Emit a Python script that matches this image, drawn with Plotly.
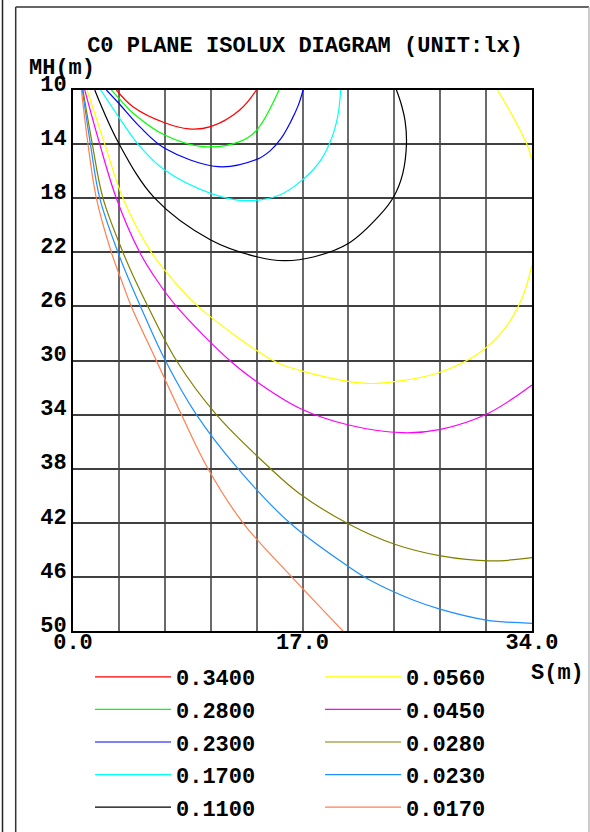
import plotly.graph_objects as go

# ---------------- data ----------------
levels = ["0.3400", "0.2800", "0.2300", "0.1700", "0.1100",
          "0.0560", "0.0450", "0.0280", "0.0230", "0.0170"]
colors = ["#ff0000", "#00ff00", "#0000ff", "#00ffff", "#000000",
          "#ffff00", "#ff00ff", "#808000", "#1e90ff", "#ff7f50"]

s_0340 = [3.21, 4.44, 6.79, 8.6, 10.2, 12.35, 13.59]
mh_0340 = [10, 11.23, 12.42, 12.88, 12.71, 11.48, 10]

s_0280 = [2.84, 3.39, 4.44, 6.79, 9.63, 12.35, 13.61, 15.26]
mh_0280 = [10, 10.6, 11.7, 13.33, 14.19, 13.82, 12.96, 10]

s_0230 = [2.47, 3.39, 4.94, 6.79, 10.74, 13.61, 14.6, 15.4, 16.15, 16.7, 17.04]
mh_0230 = [10, 10.98, 12.71, 14.31, 15.67, 15.13, 14.5, 13.6, 12.3, 11.1, 10]

s_0170 = [2.05, 3.39, 4.81, 6.79, 10.2, 12.72, 15.31, 16.99, 18.2, 19.01, 19.6, 19.83]
mh_0170 = [10, 12.0, 14.0, 15.92, 17.64, 18.18, 17.76, 16.65, 15.4, 13.94, 12.0, 10]

s_0110 = [1.61, 3.39, 6.05, 10.2, 13.61, 15.68, 17.8, 20.42, 22.72, 23.78, 24.42, 24.70, 24.6, 24.3, 23.96]
mh_0110 = [10, 13.94, 18.0, 21.09, 22.33, 22.62, 22.35, 21.33, 19.25, 17.85, 16.2, 14.0, 12.3, 11.0, 10]

s_0056 = [1.04, 2.35, 3.70, 5.80, 7.41, 9.26, 14.82, 16.79, 21.73, 24.70, 27.24, 30.0, 32.0, 33.3, 34.0,
          None, 31.44, 32.59, 33.59, 34.0]
mh_0056 = [10, 14, 18, 22, 24.05, 26, 30, 30.73, 31.69, 31.44, 30.85, 29.5, 27.6, 25.3, 22.94,
           None, 10, 11.97, 13.94, 15.18]

s_0045 = [0.87, 1.98, 3.21, 4.94, 6.2, 7.66, 11.61, 13.61, 16.79, 20.42, 24.44, 27.24, 30.62, 34.0]
mh_0045 = [10, 14, 18, 22, 24.05, 26, 30, 31.57, 33.53, 34.77, 35.34, 35.09, 33.98, 31.81]

s_0028 = [0.74, 1.43, 2.22, 3.70, 4.6, 5.55, 7.66, 10.62, 14.64, 16.79, 20.42, 23.83, 27.24, 30.87, 34.0]
mh_0028 = [10, 14, 18, 22, 24.05, 26, 30, 34, 38, 39.85, 42.09, 43.59, 44.45, 44.82, 44.58]

s_0023 = [0.69, 1.29, 1.98, 3.33, 4.15, 5.0, 6.84, 9.14, 12.22, 16.05, 20.42, 21.98, 25.19, 27.24, 30.62, 34.0]
mh_0023 = [10, 14, 18, 22, 24.05, 26, 30, 34, 38, 42, 45.25, 46.23, 47.71, 48.40, 49.19, 49.43]

s_0017 = [0.62, 1.11, 1.73, 2.84, 3.58, 4.32, 6.17, 8.03, 10.0, 12.59, 16.2, 20.0]
mh_0017 = [10, 14, 18, 22, 24.05, 26, 30, 34, 38, 42, 46, 50]

x_ticks = [0, 3.4, 6.8, 10.2, 13.6, 17.0, 20.4, 23.8, 27.2, 30.6, 34.0]
x_ticktext = ["0.0", "", "", "", "", "17.0", "", "", "", "", "34.0"]
y_ticks = [10, 14, 18, 22, 26, 30, 34, 38, 42, 46, 50]
y_ticktext = ["10", "14", "18", "22", "26", "30", "34", "38", "42", "46", "50"]

series_s = [s_0340, s_0280, s_0230, s_0170, s_0110, s_0056, s_0045, s_0028, s_0023, s_0017]
series_mh = [mh_0340, mh_0280, mh_0230, mh_0170, mh_0110, mh_0056, mh_0045, mh_0028, mh_0023, mh_0017]

# ---------------- figure ----------------
FONT = "Liberation Mono"
W, H = 590, 832
ML, MR, MT, MB = 73, 58, 90, 201
PW, PH = W - ML - MR, H - MT - MB


def px_x(px):
    return (px - ML) / PW


def px_y(py):
    return (H - MB - py) / PH


fig = go.Figure()
for i, (lab, col, sx, sy) in enumerate(zip(levels, colors, series_s, series_mh)):
    fig.add_trace(go.Scatter(
        x=sx, y=sy, mode="lines", name=lab,
        line=dict(color=col, width=1.2, shape="spline", smoothing=1.0),
        connectgaps=False, legendgroup=lab, hoverinfo="skip",
        legend="legend" if i < 5 else "legend2",
    ))

bold = dict(family=FONT, size=22, color="black", weight="bold")

fig.update_layout(
    width=W, height=H,
    margin=dict(l=ML, r=MR, t=MT, b=MB, autoexpand=False),
    paper_bgcolor="white", plot_bgcolor="white",
    font=bold,
    title=dict(text="C0 PLANE ISOLUX DIAGRAM (UNIT:lx)", font=bold,
               x=305 / W, xref="container", xanchor="center",
               y=1 - 44 / H, yref="container", yanchor="middle"),
    xaxis=dict(range=[0, 34], tickvals=x_ticks, ticktext=x_ticktext,
               showgrid=True, gridcolor="#6a6a6a", gridwidth=2,
               showline=True, linecolor="black", linewidth=2, mirror=True,
               zeroline=False, ticks="", tickfont=bold, automargin=False,
               ticklabelstandoff=-10, fixedrange=True),
    yaxis=dict(range=[50, 10], tickvals=y_ticks, ticktext=y_ticktext,
               showgrid=True, gridcolor="#404040", gridwidth=2,
               showline=True, linecolor="black", linewidth=2, mirror=True,
               zeroline=False, ticks="", tickfont=bold, ticklabelshift=7,
               automargin=False, fixedrange=True),
    legend=dict(x=px_x(90), y=px_y(656), xanchor="left", yanchor="top",
                font=bold, itemwidth=76, bgcolor="rgba(0,0,0,0)",
                tracegroupgap=1, traceorder="grouped"),
    legend2=dict(x=px_x(320), y=px_y(656), xanchor="left", yanchor="top",
                 font=bold, itemwidth=76, bgcolor="rgba(0,0,0,0)",
                 tracegroupgap=1, traceorder="grouped"),
    showlegend=True,
)

fig.add_annotation(text="MH(m)", xref="paper", yref="paper", x=px_x(62), y=px_y(69),
                   xanchor="center", yanchor="middle", showarrow=False, font=bold)
fig.add_annotation(text="S(m)", xref="paper", yref="paper", x=px_x(557.5), y=px_y(673),
                   xanchor="center", yanchor="middle", showarrow=False, font=bold)

# outer frame lines
frame = [
    (2.5, 0, 2.5, H, "#222222", 1.5),
    (15.7, 7, 15.7, H, "#333333", 1.5),
    (15.7, 7, 589, 7, "#333333", 1.5),
    (589, 7, 589, H, "#bbbbbb", 1.5),
]
for x0, y0, x1, y1, c, w in frame:
    fig.add_shape(type="line", xref="paper", yref="paper",
                  x0=px_x(x0), y0=px_y(y0), x1=px_x(x1), y1=px_y(y1),
                  line=dict(color=c, width=w))

fig.write_html("out.html", config={"displayModeBar": False, "staticPlot": True},
               post_script="document.body.style.margin='0px';")
